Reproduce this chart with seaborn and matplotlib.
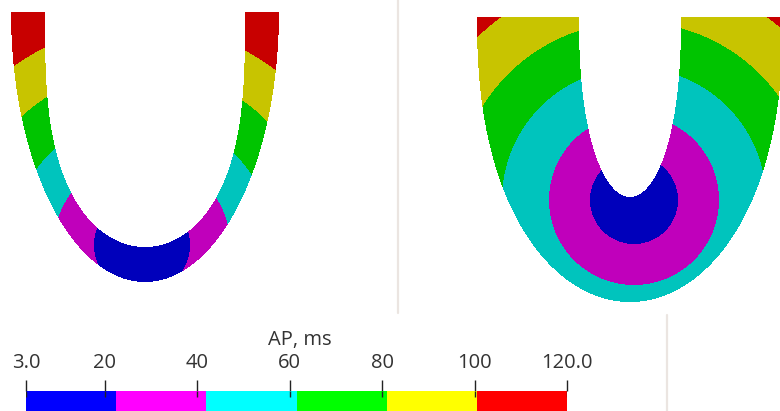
import numpy as np
import matplotlib
matplotlib.use("Agg")
import matplotlib.pyplot as plt
import seaborn as sns
from matplotlib.colors import ListedColormap, BoundaryNorm
from matplotlib.cm import ScalarMappable
from matplotlib.lines import Line2D
from matplotlib.ticker import NullLocator

# ---------------- data ----------------
SCALE_MIN, SCALE_MAX = 3.0, 120.0
TICK_VALUES = [3.0, 20, 40, 60, 80, 100, 120.0]
TICK_LABELS = ["3.0", "20", "40", "60", "80", "100", "120.0"]
BIN_EDGES = [3.0, 22.5, 42.0, 61.5, 81.0, 100.5, 120.0]
BAR_COLORS = ["#0000ff", "#ff00ff", "#00ffff", "#00ff00", "#ffff00", "#ff0000"]
SURFACE_COLORS = ["#0000bb", "#c000bb", "#00c4bd", "#00c400", "#c8c400", "#c80000"]
TITLE = "AP, ms"

# distance (px) from the stimulus site at which each colour band ends
LEFT_EDGE_RADII = [48, 88, 130, 176, 220]
RIGHT_EDGE_RADII = [44, 85, 132, 178, 226]

W, H = 780, 411
sns.set_theme(style="white")
plt.rcParams["font.family"] = ["Open Sans", "DejaVu Sans"]

fig = plt.figure(figsize=(W / 100, H / 100), dpi=100)
fig.patch.set_facecolor("white")


def px_axes(x0, y0, x1, y1):
    return fig.add_axes([x0 / W, 1 - y1 / H, (x1 - x0) / W, (y1 - y0) / H])


def u_field(x0, y0, x1, y1, cx, top, ao, bo, po, ai, bi, pi, src, radii):
    xs = np.arange(x0, x1) + 0.5
    ys = np.arange(y0, y1) + 0.5
    X, Y = np.meshgrid(xs, ys)
    dy = Y - top
    t_o = np.clip(dy / bo, 0, None)
    t_i = np.clip(dy / bi, 0, None)
    half_o = ao * np.sqrt(np.clip(1 - t_o ** po, 0, None))
    half_i = ai * np.sqrt(np.clip(1 - t_i ** pi, 0, None))
    inside_o = (dy >= 0) & (t_o <= 1) & (np.abs(X - cx) <= half_o)
    inside_i = (dy >= 0) & (t_i <= 1) & (np.abs(X - cx) < half_i)
    mask = inside_o & ~inside_i
    r = np.hypot(X - src[0], Y - src[1])
    t = np.interp(r, [0] + list(radii) + [400], BIN_EDGES)
    return np.where(mask, t, np.nan)


cmap_s = ListedColormap(SURFACE_COLORS)
norm = BoundaryNorm(BIN_EDGES, len(SURFACE_COLORS))

# left view
fl = u_field(0, 0, 300, 300, 145, 12, 134, 270, 2.0, 100, 235, 3.0,
             (142, 245), LEFT_EDGE_RADII)
axl = px_axes(0, 0, 300, 300)
sns.heatmap(fl, ax=axl, cmap=cmap_s, norm=norm, cbar=False,
            xticklabels=False, yticklabels=False, rasterized=True)
axl.axis("off")

# right view
fr = u_field(400, 0, 780, 312, 630, 17, 153, 285, 2.3, 51, 180, 2.3,
             (634, 200), RIGHT_EDGE_RADII)
axr = px_axes(400, 0, 780, 312)
sns.heatmap(fr, ax=axr, cmap=cmap_s, norm=norm, cbar=False,
            xticklabels=False, yticklabels=False, rasterized=True)
axr.axis("off")

# separators
sep = "#ebe5e1"
fig.add_artist(Line2D([398 / W, 398 / W], [1, 1 - 313 / H], color=sep, lw=1.6,
                      transform=fig.transFigure))
fig.add_artist(Line2D([667 / W, 667 / W], [1 - 315 / H, 0], color=sep, lw=1.6,
                      transform=fig.transFigure))

# colour bar
cax = px_axes(26, 391, 567, 411)
sm = ScalarMappable(norm=BoundaryNorm(BIN_EDGES, len(BAR_COLORS)),
                    cmap=ListedColormap(BAR_COLORS))
cb = fig.colorbar(sm, cax=cax, orientation="horizontal", ticks=TICK_VALUES)
cb.outline.set_visible(False)
cb.minorticks_off()
cax.xaxis.set_minor_locator(NullLocator())
cax.xaxis.set_ticks_position("top")
cax.xaxis.set_label_position("top")
cax.set_xticks(TICK_VALUES)
cax.set_xticklabels(TICK_LABELS)
cax.tick_params(axis="x", which="major", direction="out", length=8, width=1.0,
                color="#222222", labelsize=14.5, labelcolor="#333333", pad=5)
cax.tick_params(axis="x", which="minor", length=0)
cax.vlines(TICK_VALUES, 0.72, 1.0, colors="#222222", lw=1.0)
cax.set_xlim(SCALE_MIN, SCALE_MAX)

fig.text(300 / W, 1 - 345 / H, TITLE, ha="center", va="baseline",
         fontsize=14.5, color="#333333")

fig.savefig("out.png", dpi=100, facecolor="white")
